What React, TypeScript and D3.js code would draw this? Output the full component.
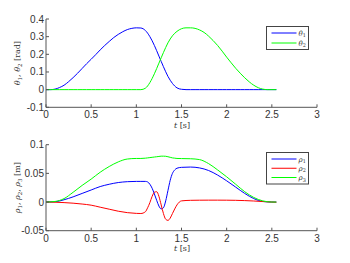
import React from "react";
import * as d3 from "d3";

const tA = [0,0.05,0.1,0.15,0.2,0.25,0.3,0.35,0.4,0.45,0.5,0.55,0.6,0.65,0.7,0.75,0.8,0.85,0.9,0.95,1.0,1.05,1.1,1.15,1.2,1.25,1.3,1.35,1.4,1.45,1.5,1.55,1.6,1.65,1.7,1.75,1.8,1.85,1.9,1.95,2.0,2.05,2.1,2.15,2.2,2.25,2.3,2.35,2.4,2.45,2.5,2.55];
const theta1 = [0,0,0.003,0.012,0.025,0.045,0.068,0.093,0.12,0.147,0.172,0.198,0.225,0.25,0.273,0.295,0.313,0.328,0.34,0.347,0.35,0.349,0.335,0.3,0.25,0.19,0.13,0.075,0.035,0.01,0.002,0,0,0,0,0,0,0,0,0,0,0,0,0,0,0,0,0,0,0,0,0];
const theta2 = [0,0,0,0,0,0,0,0,0,0,0,0,0,0,0,0,0,0,0,0,0,0,0.008,0.04,0.09,0.15,0.21,0.265,0.305,0.33,0.345,0.35,0.35,0.347,0.338,0.324,0.303,0.278,0.25,0.218,0.184,0.152,0.121,0.093,0.067,0.044,0.025,0.011,0.003,0,0,0];

const tB = [0,0.1,0.2,0.3,0.4,0.5,0.6,0.7,0.8,0.9,1.0,1.05,1.1,1.125,1.15,1.175,1.2,1.225,1.25,1.275,1.3,1.325,1.35,1.375,1.4,1.425,1.45,1.5,1.6,1.7,1.8,1.9,2.0,2.1,2.2,2.3,2.4,2.5,2.55];
const rho1 = [0,0.0005,0.004,0.009,0.015,0.021,0.027,0.031,0.034,0.0355,0.036,0.036,0.036,0.035,0.031,0.024,0.014,0.003,-0.007,-0.012,-0.01,0.002,0.02,0.038,0.05,0.056,0.059,0.0605,0.061,0.0595,0.055,0.047,0.037,0.026,0.015,0.006,0.001,0,0];
const rho2 = [0,-0.0003,-0.001,-0.002,-0.0035,-0.0055,-0.009,-0.0125,-0.016,-0.0185,-0.0198,-0.02,-0.017,-0.01,-0.001,0.01,0.017,0.018,0.01,-0.005,-0.02,-0.03,-0.032,-0.028,-0.02,-0.012,-0.005,0.002,0.003,0.0032,0.0033,0.0033,0.0032,0.003,0.0025,0.0018,0.0008,0,-0.0003];
const rho3 = [0,0.001,0.006,0.017,0.029,0.04,0.052,0.062,0.07,0.075,0.076,0.076,0.0765,0.077,0.0775,0.078,0.0785,0.079,0.0795,0.08,0.08,0.0798,0.079,0.078,0.077,0.0765,0.076,0.0758,0.0755,0.074,0.067,0.056,0.044,0.031,0.018,0.008,0.002,0,0];

const xTicks = [0,0.5,1,1.5,2,2.5,3];
const yTicksA = [-0.1,0,0.1,0.2,0.3,0.4];
const yTicksB = [-0.05,0,0.05,0.1];

const AX = "#555";
const TXT = "#333";
const FONT = "'Liberation Sans', Arial, sans-serif";

function Panel({ top, bottom, yDomain, yTicks, series, t, legend, legendBox, yLabel, xLabelY }: any) {
  const x = d3.scaleLinear().domain([0, 3]).range([46, 317]);
  const y = d3.scaleLinear().domain(yDomain).range([bottom, top]);
  const line = (vals: number[]) =>
    d3.line<number>().x((_, i) => x(t[i])).y((v) => y(v)).curve(d3.curveMonotoneX)(vals) as string;
  const fmt = (v: number) => (v === 0 ? "0" : String(v));
  const [lx, ly, lw, lh] = legendBox;
  return (
    <g>
      {series.map((s: any, i: number) => (
        <path key={i} d={line(s.values)} fill="none" stroke={s.color} strokeWidth={1} />
      ))}
      <line x1={46} x2={317} y1={bottom} y2={bottom} stroke={AX} strokeWidth={1} />
      <line x1={46} x2={46} y1={top} y2={bottom} stroke={AX} strokeWidth={1} />
      {xTicks.map((v) => (
        <g key={v}>
          <line x1={x(v)} x2={x(v)} y1={bottom} y2={bottom - 3} stroke={AX} />
          <text x={x(v)} y={bottom + 11} textAnchor="middle" fontSize={10} fill={TXT} fontFamily={FONT}>{fmt(v)}</text>
        </g>
      ))}
      {yTicks.map((v: number) => (
        <g key={v}>
          <line x1={46} x2={49} y1={y(v)} y2={y(v)} stroke={AX} />
          <text x={44} y={y(v) + 3.5} textAnchor="end" fontSize={10} fill={TXT} fontFamily={FONT}>{fmt(v)}</text>
        </g>
      ))}
      <text x={182} y={xLabelY} textAnchor="middle" fontSize={8} fill={TXT} fontFamily="'DejaVu Serif', serif">
        <tspan fontStyle="italic">t</tspan> [s]
      </text>
      <text transform={`translate(20,${(top + bottom) / 2}) rotate(-90)`} textAnchor="middle" fontSize={8} fill={TXT} fontFamily="'DejaVu Serif', serif">
        {yLabel}
      </text>
      <rect x={lx} y={ly} width={lw} height={lh} fill="white" stroke="#444" strokeWidth={1} />
      {legend.map((s: any, i: number) => {
        const yy = ly + 6.5 + i * (lh - 13) / Math.max(1, legend.length - 1);
        return (
          <g key={i}>
            <line x1={lx + 5} x2={lx + 30} y1={yy} y2={yy} stroke={s.color} strokeWidth={1} />
            <text x={lx + 32} y={yy + 2.5} fontSize={7} fill={TXT} fontFamily="'DejaVu Serif', serif" fontStyle="italic">
              {s.sym}<tspan fontSize={5} dy={1.5} fontStyle="normal">{s.sub}</tspan>
            </text>
          </g>
        );
      })}
    </g>
  );
}

export default function App() {
  const sA = [
    { values: theta1, color: "#0000ff", sym: "θ", sub: "1" },
    { values: theta2, color: "#00ff00", sym: "θ", sub: "2" },
  ];
  const sB = [
    { values: rho1, color: "#0000ff", sym: "ρ", sub: "1" },
    { values: rho2, color: "#ff0000", sym: "ρ", sub: "2" },
    { values: rho3, color: "#00ff00", sym: "ρ", sub: "3" },
  ];
  const labA = (
    <>
      <tspan fontStyle="italic">θ</tspan><tspan fontSize={5.5} dy={1.5}>1</tspan>
      <tspan dy={-1.5}>, </tspan><tspan fontStyle="italic">θ</tspan><tspan fontSize={5.5} dy={1.5}>2</tspan>
      <tspan dy={-1.5}> [rad]</tspan>
    </>
  );
  const labB = (
    <>
      <tspan fontStyle="italic">ρ</tspan><tspan fontSize={5.5} dy={1.5}>1</tspan>
      <tspan dy={-1.5}>, </tspan><tspan fontStyle="italic">ρ</tspan><tspan fontSize={5.5} dy={1.5}>2</tspan>
      <tspan dy={-1.5}>, </tspan><tspan fontStyle="italic">ρ</tspan><tspan fontSize={5.5} dy={1.5}>3</tspan>
      <tspan dy={-1.5}> [m]</tspan>
    </>
  );
  return (
    <svg width={350} height={263} style={{ position: "absolute", left: 0, top: 0, background: "white" }}>
      <rect width={350} height={263} fill="white" />
      <Panel top={19} bottom={107.3} yDomain={[-0.1, 0.4]} yTicks={yTicksA} series={sA} t={tA}
        legend={sA} legendBox={[266.5, 26.5, 42, 23]} yLabel={labA} xLabelY={128} />
      <Panel top={144.7} bottom={230.7} yDomain={[-0.05, 0.1]} yTicks={yTicksB} series={sB} t={tB}
        legend={sB} legendBox={[266.5, 152.5, 42, 31.5]} yLabel={labB} xLabelY={251} />
    </svg>
  );
}
